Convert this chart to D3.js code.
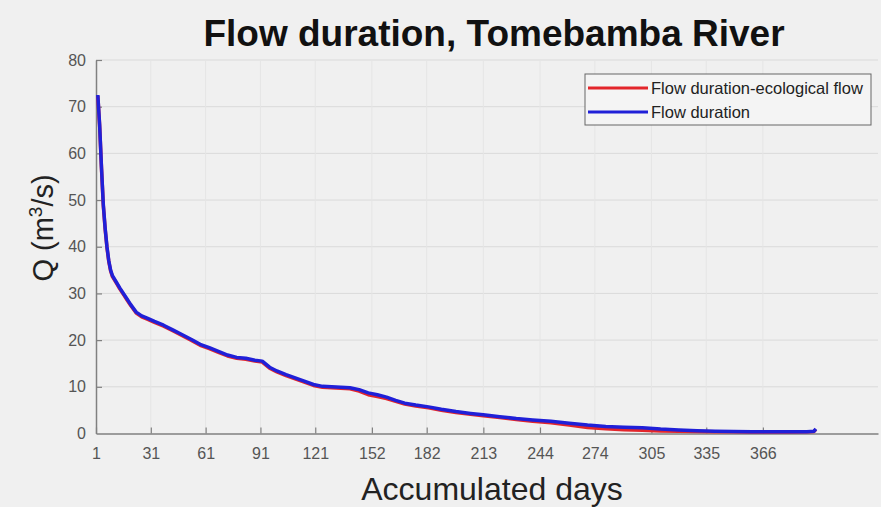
<!DOCTYPE html>
<html>
<head>
<meta charset="utf-8">
<script src="https://cdn.jsdelivr.net/npm/d3@7"></script>
<style>
  body { margin: 0; background: #f0f0f0; }
  svg { display: block; font-family: "Liberation Sans", Arial, sans-serif; }
</style>
</head>
<body>
<svg class="flow-chart" width="881" height="507"></svg>
<script>
/****** Flow duration curve *******/
const xTicks = [1, 31, 61, 91, 121, 152, 182, 213, 244, 274, 305, 335, 366];
const yTicks = [0, 10, 20, 30, 40, 50, 60, 70, 80];

// accumulated days (x) for the sampled points
const days = [2, 3, 4, 5, 6, 7, 8, 9, 10, 12, 14, 16, 18, 20, 23, 26, 29, 33, 38, 43,
    48, 53, 58, 63, 68, 73, 78, 83, 88, 92, 96, 100, 105, 110, 115, 120, 125, 130, 135, 140,
    145, 150, 155, 160, 165, 170, 176, 183, 190, 198, 206, 213, 222, 231, 240, 250, 260, 270, 280, 290,
    300, 310, 320, 330, 340, 350, 360, 370, 380, 390, 394, 395];

// Flow duration (m3/s)
const flowDuration = [72.5, 66, 57, 49, 44, 40, 37, 35, 33.8, 32.5, 31.2, 30, 28.8, 27.6, 26, 25.2, 24.7, 24.0, 23.2, 22.2,
    21.2, 20.2, 19.1, 18.4, 17.6, 16.8, 16.3, 16.1, 15.7, 15.5, 14.2, 13.4, 12.6, 11.9, 11.2, 10.5, 10.1, 10.0, 9.9, 9.8,
    9.4, 8.7, 8.3, 7.8, 7.1, 6.5, 6.1, 5.7, 5.2, 4.7, 4.3, 4.0, 3.6, 3.2, 2.9, 2.6, 2.2, 1.8, 1.5, 1.35,
    1.25, 0.95, 0.75, 0.6, 0.5, 0.45, 0.4, 0.35, 0.35, 0.4, 0.5, 1.0];

// Flow duration minus ecological flow (m3/s)
const flowEco = [72.3, 65.8, 56.8, 48.8, 43.8, 39.8, 36.8, 34.8, 33.6, 32.3, 31.0, 29.8, 28.6, 27.4, 25.8, 25.0, 24.5, 23.8, 23.0, 22.0,
    21.0, 20.0, 18.9, 18.2, 17.4, 16.6, 16.1, 15.9, 15.5, 15.3, 14.0, 13.2, 12.4, 11.7, 11.0, 10.3, 9.9, 9.8, 9.7, 9.6,
    9.1, 8.3, 7.9, 7.5, 6.9, 6.3, 5.9, 5.5, 5.0, 4.5, 4.1, 3.8, 3.4, 3.0, 2.6, 2.3, 1.8, 1.3, 1.0, 0.8,
    0.7, 0.55, 0.5, 0.45, 0.4, 0.35, 0.3, 0.3, 0.3, 0.35, 0.45, 0.9];

const seriesNames = ["Flow duration-ecological flow", "Flow duration"];
const seriesColors = ["#e3262b", "#2020d8"];

function drawChart() {
    var svg = d3.select('.flow-chart');
    var left = 96, right = 878, top = 60, bottom = 433.5;

    var x = d3.scaleLinear().domain([1, 429]).range([left, right]);
    var y = d3.scaleLinear().domain([0, 80]).range([bottom, top]);

    // grid
    svg.append("g")
        .selectAll("line")
        .data(yTicks.slice(1))
        .enter().append("line")
        .attr("x1", left).attr("x2", right)
        .attr("y1", d => y(d)).attr("y2", d => y(d))
        .attr("stroke", "#dadada")
        .attr("stroke-width", 1);
    svg.append("g")
        .selectAll("line")
        .data(xTicks.slice(1))
        .enter().append("line")
        .attr("x1", d => x(d)).attr("x2", d => x(d))
        .attr("y1", top).attr("y2", bottom)
        .attr("stroke", "#e5e5e5")
        .attr("stroke-width", 1);

    // axes (ticks pointing inwards)
    var xAxis = svg.append("g")
        .attr("transform", "translate(0," + bottom + ")")
        .call(d3.axisBottom(x).tickValues(xTicks).tickSizeInner(-6).tickSizeOuter(0).tickPadding(14));
    var yAxis = svg.append("g")
        .attr("transform", "translate(" + left + ",0)")
        .call(d3.axisLeft(y).tickValues(yTicks).tickSizeInner(-6).tickSizeOuter(0).tickPadding(10));

    [xAxis, yAxis].forEach(function (a) {
        a.select(".domain").attr("stroke", "#808080").attr("stroke-width", 1.5);
        a.selectAll(".tick line").attr("stroke", "#808080").attr("stroke-width", 1.2);
        a.selectAll(".tick text")
            .attr("fill", "#555")
            .style("font-size", "16px")
            .style("font-family", "'Liberation Sans', Arial, sans-serif");
    });
    // no tick mark at the origin on the y axis
    yAxis.selectAll(".tick").filter(d => d === 0).select("line").remove();

    var line = d3.line()
        .x((d, i) => x(days[i]))
        .y(d => y(d));

    svg.append("path")
        .datum(flowEco)
        .attr("fill", "none")
        .attr("stroke", seriesColors[0])
        .attr("stroke-width", 3.5)
        .attr("stroke-linejoin", "round")
        .attr("d", line);

    svg.append("path")
        .datum(flowDuration)
        .attr("fill", "none")
        .attr("stroke", seriesColors[1])
        .attr("stroke-width", 3.5)
        .attr("stroke-linejoin", "round")
        .attr("d", line);

    // title and axis labels
    svg.append("text")
        .attr("x", 494).attr("y", 46)
        .attr("text-anchor", "middle")
        .style("font-size", "37px")
        .style("font-weight", "bold")
        .attr("fill", "#111")
        .text("Flow duration, Tomebamba River");

    svg.append("text")
        .attr("x", 492).attr("y", 500)
        .attr("text-anchor", "middle")
        .style("font-size", "32px")
        .attr("fill", "#222")
        .text("Accumulated days");

    var yl = svg.append("text")
        .attr("transform", "translate(53,228) rotate(-90)")
        .attr("text-anchor", "middle")
        .style("font-size", "29px")
        .attr("fill", "#222");
    yl.append("tspan").text("Q (m");
    yl.append("tspan").attr("dy", -11).style("font-size", "19px").text("3");
    yl.append("tspan").attr("dy", 11).text("/s)");

    // legend
    var lg = svg.append("g");
    lg.append("rect")
        .attr("x", 585).attr("y", 74)
        .attr("width", 286).attr("height", 51)
        .attr("fill", "#f4f4f4")
        .attr("stroke", "#666")
        .attr("stroke-width", 1);
    seriesNames.forEach(function (name, i) {
        var ly = 88 + i * 24;
        lg.append("line")
            .attr("x1", 588).attr("x2", 648)
            .attr("y1", ly).attr("y2", ly)
            .attr("stroke", seriesColors[i])
            .attr("stroke-width", 3);
        lg.append("text")
            .attr("x", 651).attr("y", ly + 6)
            .style("font-size", "16.5px")
            .attr("fill", "#222")
            .text(name);
    });
}

drawChart();
</script>
</body>
</html>
